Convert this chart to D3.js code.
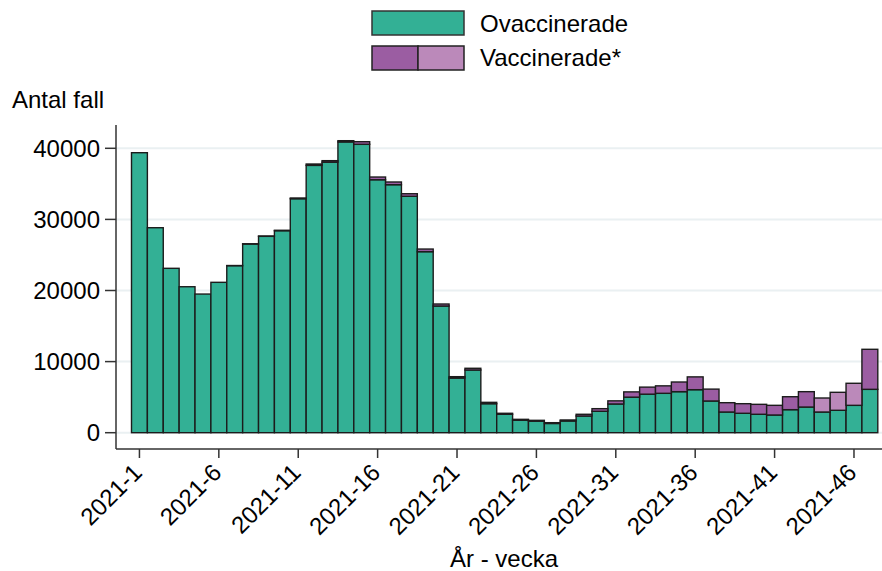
<!DOCTYPE html>
<html>
<head>
<meta charset="utf-8">
<script src="https://cdn.jsdelivr.net/npm/d3@7"></script>
<style>
  body { margin: 0; background: #fff; }
  svg { font-family: "Liberation Sans", Arial, sans-serif; }
</style>
</head>
<body>
<script>
// weeks of 2021
const weeks = [1, 2, 3, 4, 5, 6, 7, 8, 9, 10, 11, 12, 13, 14, 15, 16, 17, 18, 19, 20,
  21, 22, 23, 24, 25, 26, 27, 28, 29, 30, 31, 32, 33, 34, 35, 36, 37, 38, 39, 40,
  41, 42, 43, 44, 45, 46, 47];
const tickWeeks = [1, 6, 11, 16, 21, 26, 31, 36, 41, 46];
const yTicks = [0, 10000, 20000, 30000, 40000];

const unvaccinated = [39380, 28830, 23120, 20530, 19500, 21150, 23490, 26540, 27620, 28410,
  32910, 37600, 38050, 40900, 40560, 35580, 34880, 33250, 25460, 17820,
  7690, 8820, 4080, 2590, 1750, 1620, 1300, 1650, 2350, 3010,
  4040, 5000, 5420, 5540, 5770, 6050, 4460, 2910, 2730, 2590,
  2490, 3240, 3610, 2910, 3150, 3850, 6100];
const vaccinated = [0, 0, 0, 0, 0, 0, 20, 30, 40, 60,
  100, 190, 210, 170, 370, 380, 380, 360, 370, 280,
  190, 240, 190, 140, 130, 120, 110, 140, 240, 370,
  440, 740, 990, 1050, 1360, 1800, 1670, 1310, 1350, 1400,
  1360, 1820, 2160, 1970, 2530, 3100, 5630];
// weeks drawn in the lighter purple
const lightWeeks = [44, 45, 46];

const width = 882;
const height = 571;

const teal = "#33b095";
const purple = "#9b5da2";
const lightPurple = "#bb89ba";
const edge = "#1c1c1c";

const svg = d3.select("body").append("svg")
  .attr("width", width)
  .attr("height", height);

const x = d3.scaleBand()
  .domain(weeks)
  .range([131.5, 877.8])
  .padding(0);

const y = d3.scaleLinear()
  .domain([0, 40000])
  .range([432.7, 148.3]);

const plotLeft = 116;
const plotRight = 882;
const axisY = 449;

// grid
svg.selectAll(".grid")
  .data(yTicks)
  .enter()
  .append("line")
  .attr("x1", plotLeft)
  .attr("x2", plotRight)
  .attr("y1", d => y(d))
  .attr("y2", d => y(d))
  .attr("stroke", "#eaf0f2")
  .attr("stroke-width", 2);

// bars
const rows = weeks.map((w, i) => ({ week: w, u: unvaccinated[i], v: vaccinated[i] }));

svg.selectAll(".unvac")
  .data(rows)
  .enter()
  .append("rect")
  .attr("x", d => x(d.week))
  .attr("width", x.bandwidth())
  .attr("y", d => y(d.u))
  .attr("height", d => y(0) - y(d.u))
  .attr("fill", teal)
  .attr("stroke", edge)
  .attr("stroke-width", 1.4);

svg.selectAll(".vac")
  .data(rows.filter(d => d.v > 0))
  .enter()
  .append("rect")
  .attr("x", d => x(d.week))
  .attr("width", x.bandwidth())
  .attr("y", d => y(d.u + d.v))
  .attr("height", d => y(d.u) - y(d.u + d.v))
  .attr("fill", d => lightWeeks.includes(d.week) ? lightPurple : purple)
  .attr("stroke", edge)
  .attr("stroke-width", 1.4);

// axes
svg.append("line")
  .attr("x1", plotLeft).attr("x2", plotLeft)
  .attr("y1", 125).attr("y2", axisY)
  .attr("stroke", "#333").attr("stroke-width", 1.5);
svg.append("line")
  .attr("x1", plotLeft).attr("x2", plotRight)
  .attr("y1", axisY).attr("y2", axisY)
  .attr("stroke", "#333").attr("stroke-width", 1.5);

svg.selectAll(".ytick")
  .data(yTicks)
  .enter()
  .append("line")
  .attr("x1", plotLeft - 11).attr("x2", plotLeft)
  .attr("y1", d => y(d)).attr("y2", d => y(d))
  .attr("stroke", "#333").attr("stroke-width", 1.5);

svg.selectAll(".ylab")
  .data(yTicks)
  .enter()
  .append("text")
  .attr("x", 100)
  .attr("y", d => y(d))
  .attr("dy", "0.35em")
  .attr("text-anchor", "end")
  .attr("font-size", 24)
  .text(d => d);

svg.selectAll(".xtick")
  .data(tickWeeks)
  .enter()
  .append("line")
  .attr("x1", d => x(d) + x.bandwidth() / 2)
  .attr("x2", d => x(d) + x.bandwidth() / 2)
  .attr("y1", axisY).attr("y2", axisY + 9)
  .attr("stroke", "#333").attr("stroke-width", 1.5);

svg.selectAll(".xlab")
  .data(tickWeeks)
  .enter()
  .append("text")
  .attr("transform", d => `translate(${x(d) + x.bandwidth() / 2 + 4},474) rotate(-45)`)
  .attr("text-anchor", "end")
  .attr("font-size", 24)
  .text(d => "2021-" + d);

svg.append("text")
  .attr("x", 12).attr("y", 108)
  .attr("font-size", 24)
  .text("Antal fall");

svg.append("text")
  .attr("x", 450).attr("y", 567)
  .attr("font-size", 24)
  .text("År - vecka");

// legend
const lg = svg.append("g");
lg.append("rect")
  .attr("x", 372).attr("y", 11).attr("width", 92).attr("height", 24)
  .attr("fill", teal).attr("stroke", "#333").attr("stroke-width", 1.5);
lg.append("rect")
  .attr("x", 372).attr("y", 46).attr("width", 46).attr("height", 24)
  .attr("fill", purple).attr("stroke", "#222").attr("stroke-width", 1.5);
lg.append("rect")
  .attr("x", 418).attr("y", 46).attr("width", 46).attr("height", 24)
  .attr("fill", lightPurple).attr("stroke", "#222").attr("stroke-width", 1.5);
lg.append("text")
  .attr("x", 480).attr("y", 32)
  .attr("font-size", 24)
  .text("Ovaccinerade");
lg.append("text")
  .attr("x", 480).attr("y", 66)
  .attr("font-size", 24)
  .text("Vaccinerade*");
</script>
</body>
</html>
